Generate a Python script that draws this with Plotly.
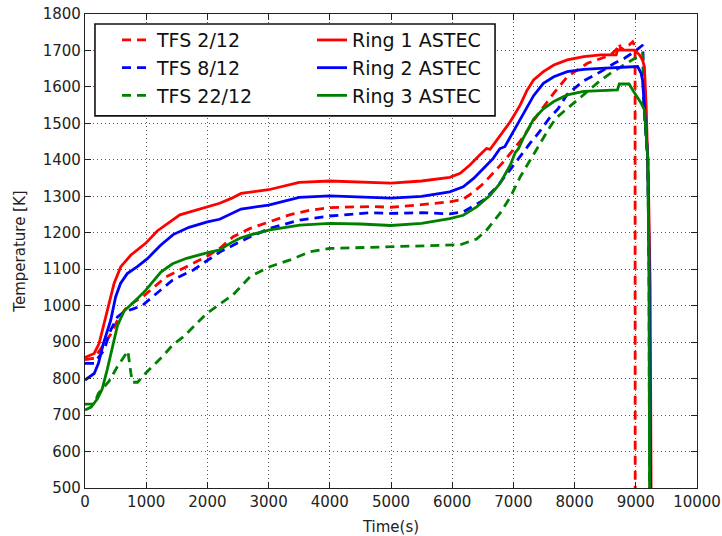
import plotly.graph_objects as go

# ---------------- data ----------------
ring1_t = [0, 150, 230, 310, 390, 475, 585, 750, 990, 1180, 1550, 2000, 2200, 2400, 2550, 3000, 3500, 4000, 4500, 5000, 5500, 5960, 6130, 6290, 6450, 6560, 6620, 6730, 6840, 6950, 7050, 7110, 7220, 7330, 7490, 7660, 7880, 8150, 8430, 8680, 8700, 8980, 9060, 9110, 9140, 9170, 9210, 9235, 9250]
ring1_T = [858, 869, 896, 951, 1006, 1061, 1107, 1139, 1171, 1205, 1249, 1270, 1281, 1295, 1308, 1318, 1338, 1342, 1340, 1336, 1342, 1352, 1363, 1386, 1413, 1431, 1429, 1454, 1478, 1505, 1533, 1550, 1590, 1619, 1642, 1660, 1674, 1683, 1688, 1688, 1701, 1701, 1688, 1674, 1656, 1547, 1300, 1050, 500]

ring2_t = [0, 150, 220, 300, 420, 500, 580, 690, 855, 1020, 1235, 1440, 1700, 2000, 2200, 2400, 2550, 3000, 3500, 4000, 4500, 5000, 5500, 5960, 6180, 6350, 6510, 6670, 6780, 6860, 6950, 7050, 7110, 7220, 7330, 7490, 7660, 7880, 8150, 8430, 8980, 9030, 9085, 9110, 9140, 9195, 9220, 9240]
ring2_T = [796, 814, 842, 896, 960, 1024, 1061, 1088, 1107, 1129, 1166, 1195, 1215, 1230, 1237, 1252, 1265, 1276, 1297, 1301, 1298, 1295, 1300, 1312, 1326, 1349, 1376, 1404, 1431, 1436, 1463, 1492, 1510, 1545, 1576, 1610, 1628, 1642, 1648, 1651, 1656, 1656, 1638, 1619, 1547, 1406, 1107, 500]

ring3_t = [0, 100, 200, 280, 365, 450, 530, 640, 800, 990, 1240, 1430, 1660, 1990, 2200, 2370, 2530, 2700, 3020, 3510, 4000, 4500, 5000, 5500, 5960, 6180, 6400, 6620, 6780, 6950, 7030, 7080, 7160, 7330, 7490, 7660, 7880, 8150, 8430, 8700, 8730, 8890, 8980, 9085, 9140, 9195, 9215, 9225]
ring3_T = [714, 722, 744, 771, 826, 890, 945, 986, 1010, 1042, 1092, 1115, 1130, 1145, 1153, 1171, 1185, 1194, 1208, 1221, 1226, 1224, 1220, 1226, 1239, 1248, 1271, 1303, 1335, 1386, 1420, 1430, 1459, 1512, 1540, 1560, 1578, 1588, 1590, 1592, 1608, 1608, 1583, 1556, 1538, 1406, 1107, 500]

tfs2_t = [0, 150, 250, 350, 430, 530, 665, 800, 940, 1100, 1320, 1660, 1990, 2200, 2420, 2700, 3020, 3340, 3680, 4000, 4660, 5000, 5500, 5960, 6180, 6350, 6510, 6670, 6840, 7000, 7110, 7220, 7330, 7490, 7660, 7880, 8040, 8210, 8430, 8590, 8700, 8730, 8760, 8810, 8890, 8950, 8988, 8990]
tfs2_T = [852, 856, 880, 905, 924, 960, 992, 1010, 1024, 1047, 1079, 1107, 1135, 1157, 1189, 1212, 1230, 1249, 1262, 1269, 1272, 1270, 1277, 1285, 1292, 1312, 1335, 1363, 1395, 1428, 1451, 1478, 1508, 1545, 1583, 1628, 1647, 1665, 1678, 1688, 1706, 1719, 1701, 1710, 1715, 1724, 1710, 500]

tfs8_t = [0, 150, 310, 420, 530, 640, 800, 940, 1100, 1290, 1430, 1770, 2210, 2530, 2700, 3020, 3510, 4000, 4660, 5000, 5500, 5960, 6180, 6510, 6730, 6920, 7110, 7270, 7430, 7590, 7730, 7880, 8150, 8430, 8650, 8810, 8980, 9085, 9115, 9130, 9195, 9220, 9240]
tfs8_T = [842, 842, 878, 933, 969, 983, 992, 1001, 1024, 1051, 1070, 1098, 1148, 1175, 1189, 1212, 1235, 1246, 1255, 1253, 1255, 1252, 1257, 1289, 1326, 1367, 1410, 1445, 1478, 1515, 1540, 1580, 1617, 1642, 1665, 1678, 1697, 1710, 1715, 1560, 1406, 1107, 500]

tfs22_t = [0, 150, 220, 390, 530, 665, 700, 750, 775, 860, 990, 1155, 1290, 1430, 1610, 1990, 2420, 2700, 3020, 3340, 3680, 4000, 4660, 5000, 5640, 6130, 6400, 6560, 6780, 6950, 7110, 7270, 7430, 7600, 7700, 7880, 8150, 8430, 8590, 8810, 8980, 9085, 9115, 9130, 9195, 9215, 9225]
tfs22_T = [730, 730, 760, 792, 833, 870, 876, 815, 790, 790, 815, 842, 865, 892, 915, 979, 1030, 1080, 1107, 1125, 1148, 1157, 1160, 1160, 1164, 1167, 1183, 1207, 1253, 1298, 1353, 1399, 1445, 1491, 1515, 1540, 1578, 1619, 1638, 1660, 1678, 1688, 1692, 1550, 1406, 1107, 500]

x_ticks = [0, 1000, 2000, 3000, 4000, 5000, 6000, 7000, 8000, 9000, 10000]
y_ticks = [500, 600, 700, 800, 900, 1000, 1100, 1200, 1300, 1400, 1500, 1600, 1700, 1800]

RED, BLUE, GREEN = "#ff0000", "#0000ff", "#008000"
FONT = "DejaVu Sans"
DASH = "9px,6px"
LW = 2.8

fig = go.Figure()

series = [
    ("TFS 2/12", tfs2_t, tfs2_T, RED, DASH, "legend"),
    ("TFS 8/12", tfs8_t, tfs8_T, BLUE, DASH, "legend"),
    ("TFS 22/12", tfs22_t, tfs22_T, GREEN, DASH, "legend"),
    ("Ring 1 ASTEC", ring1_t, ring1_T, RED, "solid", "legend2"),
    ("Ring 2 ASTEC", ring2_t, ring2_T, BLUE, "solid", "legend2"),
    ("Ring 3 ASTEC", ring3_t, ring3_T, GREEN, "solid", "legend2"),
]
for name, t, T, col, dash, leg in series:
    fig.add_trace(go.Scatter(
        x=t, y=T, mode="lines", name=name, legend=leg, legendgroup=name,
        line=dict(color=col, width=LW, dash=dash),
    ))

axis_common = dict(
    showline=True, linecolor="#222", linewidth=1.3, mirror="ticks",
    ticks="inside", ticklen=6, tickwidth=1, tickcolor="#222",
    showgrid=True, gridcolor="#555", gridwidth=1, griddash="1px,3px",
    zeroline=False, tickfont=dict(family=FONT, size=15, color="#222"),
    automargin=False,
)

fig.update_xaxes(range=[0, 10000], tickvals=x_ticks, ticktext=[str(v) for v in x_ticks],
                 title=dict(text="Time(s)", font=dict(family=FONT, size=15, color="#222"), standoff=11),
                 **axis_common)
fig.update_yaxes(range=[500, 1800], tickvals=y_ticks, ticktext=[str(v) for v in y_ticks],
                 title=dict(text="Temperature [K]", font=dict(family=FONT, size=15, color="#222"), standoff=13),
                 **axis_common)

legend_common = dict(
    bgcolor="rgba(0,0,0,0)", borderwidth=0, orientation="v",
    font=dict(family=FONT, size=19, color="#111"),
    xanchor="left", yanchor="top", tracegroupgap=0, itemwidth=30,
)
fig.update_layout(
    width=722, height=536,
    margin=dict(l=85, r=25, t=14, b=48, autoexpand=False),
    paper_bgcolor="white", plot_bgcolor="white",
    showlegend=True,
    legend=dict(x=0.0523, y=0.985, **legend_common),
    legend2=dict(x=0.3709, y=0.985, **legend_common),
    shapes=[dict(type="rect", xref="paper", yref="paper",
                 x0=0.0163, x1=0.670, y0=0.785, y1=0.979,
                 line=dict(color="#111", width=1.6), fillcolor="white", layer="above")],
)

fig.write_html("out.html", config={"displayModeBar": False},
               post_script="document.body.style.margin='0';document.body.style.padding='0';")
